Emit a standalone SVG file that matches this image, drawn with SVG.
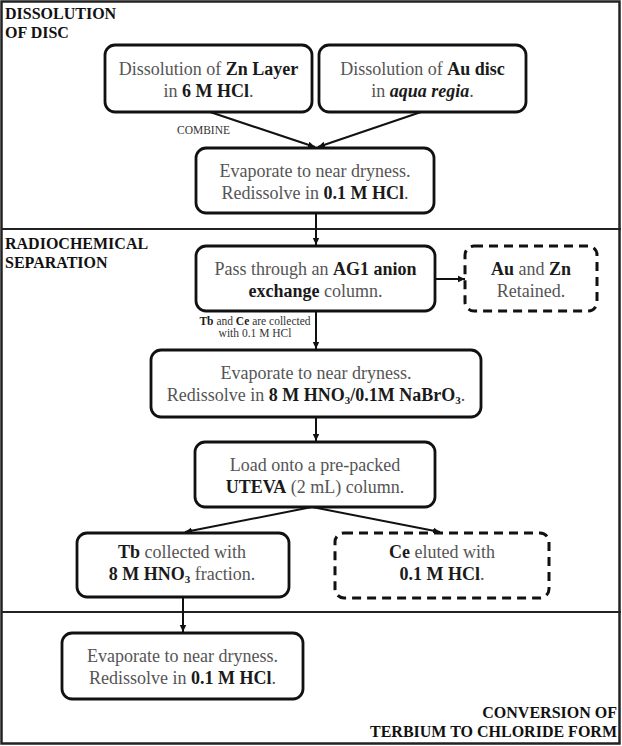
<svg xmlns="http://www.w3.org/2000/svg" width="622" height="746" viewBox="0 0 622 746">
<style>
.frame{fill:none;stroke:#222;stroke-width:2.5}
.div{stroke:#222;stroke-width:2}
.box{fill:#fff;stroke:#111;stroke-width:2.8}
.dash{fill:#fff;stroke:#111;stroke-width:3;stroke-dasharray:9 6}
.conn{fill:none;stroke:#111;stroke-width:2}
.t{font-family:"Liberation Serif","Times New Roman",serif;font-size:18px;fill:#555;text-anchor:middle}
.b{font-weight:bold;fill:#1a1a1a}
.i{font-style:italic}
.sub{font-size:11px}
.sec{font-family:"Liberation Serif","Times New Roman",serif;font-size:16px;font-weight:bold;fill:#111}
.small{font-family:"Liberation Serif","Times New Roman",serif;font-size:11.5px;fill:#333}
</style>
<defs>
<marker id="arr" markerWidth="8" markerHeight="8" refX="7" refY="4" orient="auto" markerUnits="userSpaceOnUse">
<path d="M0,0.8 L7,4 L0,7.2 z" fill="#111"/>
</marker>
</defs>
<rect x="0" y="0" width="622" height="746" fill="#fff"/>
<rect class="frame" x="1.5" y="1.5" width="618" height="742"/>
<line class="div" x1="1" y1="229" x2="621" y2="229"/>
<line class="div" x1="1" y1="612" x2="621" y2="612"/>

<g id="sections">
<text class="sec" x="5" y="19">DISSOLUTION</text>
<text class="sec" x="5" y="38">OF DISC</text>
<text class="sec" x="5" y="249">RADIOCHEMICAL</text>
<text class="sec" x="5" y="268">SEPARATION</text>
<text class="sec" x="617" y="718" text-anchor="end">CONVERSION OF</text>
<text class="sec" x="617" y="737" text-anchor="end">TERBIUM TO CHLORIDE FORM</text>
</g>

<g id="connectors">
<line class="conn" x1="210" y1="112" x2="315" y2="147" marker-end="url(#arr)"/>
<line class="conn" x1="421" y1="112" x2="318" y2="147" marker-end="url(#arr)"/>
<line class="conn" x1="316" y1="213" x2="316" y2="245" marker-end="url(#arr)"/>
<line class="conn" x1="435" y1="279" x2="465" y2="279" marker-end="url(#arr)"/>
<line class="conn" x1="316" y1="311" x2="316" y2="349" marker-end="url(#arr)"/>
<line class="conn" x1="316" y1="417" x2="316" y2="441" marker-end="url(#arr)"/>
<line class="conn" x1="312" y1="507" x2="185" y2="532" marker-end="url(#arr)"/>
<line class="conn" x1="312" y1="507" x2="440" y2="532" marker-end="url(#arr)"/>
<line class="conn" x1="183" y1="597" x2="183" y2="632" marker-end="url(#arr)"/>
<text class="small" x="177" y="134">COMBINE</text>
<text class="small" x="255" y="325" text-anchor="middle"><tspan class="b">Tb</tspan> and <tspan class="b">Ce</tspan> are collected</text>
<text class="small" x="255" y="337" text-anchor="middle">with 0.1 M HCl</text>
</g>

<g id="zn">
<rect class="box" x="105" y="45" width="207" height="67" rx="10"/>
<text class="t" x="208.5" y="74.5">Dissolution of <tspan class="b">Zn Layer</tspan></text>
<text class="t" x="208.5" y="96.5">in <tspan class="b">6 M HCl</tspan>.</text>
</g>
<g id="au">
<rect class="box" x="319" y="45" width="207" height="67" rx="10"/>
<text class="t" x="422.5" y="74.5">Dissolution of <tspan class="b">Au disc</tspan></text>
<text class="t" x="422.5" y="96.5">in <tspan class="b i">aqua regia</tspan>.</text>
</g>
<g id="evap1">
<rect class="box" x="196" y="148" width="238" height="65" rx="10"/>
<text class="t" x="315" y="176.5">Evaporate to near dryness.</text>
<text class="t" x="315" y="198.5">Redissolve in <tspan class="b">0.1 M HCl</tspan>.</text>
</g>
<g id="ag1">
<rect class="box" x="196" y="246" width="239" height="65" rx="10"/>
<text class="t" x="315.5" y="274.5">Pass through an <tspan class="b">AG1 anion</tspan></text>
<text class="t" x="315.5" y="296.5"><tspan class="b">exchange</tspan> column.</text>
</g>
<g id="retained">
<rect class="dash" x="465" y="246" width="132" height="65" rx="9"/>
<text class="t" x="531" y="274.5"><tspan class="b">Au</tspan> and <tspan class="b">Zn</tspan></text>
<text class="t" x="531" y="296.5">Retained.</text>
</g>
<g id="evap2">
<rect class="box" x="151" y="350" width="330" height="67" rx="10"/>
<text class="t" x="316" y="378.5">Evaporate to near dryness.</text>
<text class="t" x="316" y="400.5">Redissolve in <tspan class="b">8 M HNO<tspan class="sub" dy="3">3</tspan><tspan dy="-3">/0.1M NaBrO</tspan><tspan class="sub" dy="3">3</tspan></tspan><tspan dy="-3">.</tspan></text>
</g>
<g id="uteva">
<rect class="box" x="195" y="442" width="240" height="65" rx="10"/>
<text class="t" x="315" y="470.5">Load onto a pre-packed</text>
<text class="t" x="315" y="492.5"><tspan class="b">UTEVA</tspan> (2 mL) column.</text>
</g>
<g id="tb">
<rect class="box" x="77" y="533" width="212" height="64" rx="10"/>
<text class="t" x="182" y="558">
<tspan class="b">Tb</tspan> collected with</text>
<text class="t" x="182" y="580"><tspan class="b">8 M HNO<tspan class="sub" dy="3">3</tspan></tspan><tspan dy="-3"> fraction.</tspan></text>
</g>
<g id="ce">
<rect class="dash" x="335" y="533" width="214" height="65" rx="9"/>
<text class="t" x="442" y="558"><tspan class="b">Ce</tspan> eluted with</text>
<text class="t" x="442" y="580"><tspan class="b">0.1 M HCl</tspan>.</text>
</g>
<g id="evap3">
<rect class="box" x="62" y="633" width="241" height="66" rx="10"/>
<text class="t" x="182.5" y="662">Evaporate to near dryness.</text>
<text class="t" x="182.5" y="684">Redissolve in <tspan class="b">0.1 M HCl</tspan>.</text>
</g>
</svg>
